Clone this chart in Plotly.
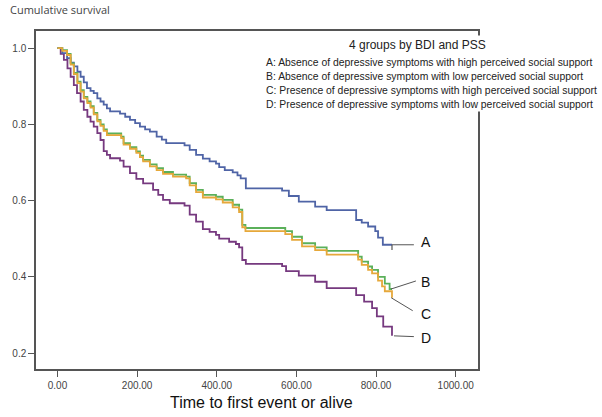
import plotly.graph_objects as go

# ---- data ----
time_a = [0, 12, 24, 33, 41, 50, 58, 66, 74, 83, 91, 100, 108, 116, 124, 132, 157, 170, 182, 195,
          207, 220, 232, 249, 262, 273, 319, 332, 348, 365, 382, 398, 406, 420, 440, 452, 460, 473,
          564, 581, 606, 647, 676, 750, 764, 780, 798, 805, 817, 840]
surv_a = [1.0, 0.987, 0.974, 0.962, 0.952, 0.938, 0.925, 0.91, 0.895, 0.888, 0.882, 0.868, 0.86, 0.852,
          0.842, 0.834, 0.828, 0.82, 0.812, 0.803, 0.794, 0.787, 0.781, 0.768, 0.76, 0.751, 0.745,
          0.733, 0.72, 0.71, 0.703, 0.697, 0.688, 0.68, 0.674, 0.666, 0.658, 0.632, 0.626, 0.612,
          0.597, 0.584, 0.575, 0.549, 0.542, 0.532, 0.52, 0.503, 0.484, 0.484]

time_b = [0, 12, 24, 33, 41, 50, 58, 66, 75, 83, 91, 100, 108, 116, 124, 160, 166, 182, 198, 207,
          215, 232, 249, 265, 290, 323, 332, 348, 365, 398, 415, 440, 456, 464, 472, 572, 589, 614,
          647, 676, 755, 764, 780, 790, 805, 822, 834, 840]
surv_b = [1.0, 0.995, 0.985, 0.96, 0.935, 0.912, 0.89, 0.872, 0.86, 0.848, 0.83, 0.812, 0.8, 0.787,
          0.776, 0.768, 0.751, 0.74, 0.729, 0.718, 0.707, 0.695, 0.685, 0.675, 0.668, 0.663, 0.646,
          0.628, 0.615, 0.61, 0.602, 0.589, 0.576, 0.536, 0.528, 0.52, 0.505, 0.488, 0.477, 0.468,
          0.453, 0.44, 0.427, 0.418, 0.40, 0.382, 0.368, 0.368]

time_c = [0, 12, 24, 33, 41, 50, 58, 66, 75, 83, 91, 100, 108, 116, 124, 160, 166, 182, 198, 207,
          215, 232, 249, 265, 290, 323, 332, 348, 365, 398, 415, 440, 456, 464, 472, 572, 589, 614,
          647, 676, 755, 764, 780, 790, 805, 815, 822, 840]
surv_c = [1.0, 0.993, 0.982, 0.957, 0.932, 0.908, 0.886, 0.868, 0.856, 0.844, 0.826, 0.808, 0.796,
          0.783, 0.772, 0.764, 0.747, 0.736, 0.725, 0.714, 0.703, 0.69, 0.68, 0.67, 0.663, 0.658,
          0.64, 0.622, 0.608, 0.603, 0.595, 0.582, 0.57, 0.53, 0.52, 0.512, 0.497, 0.48, 0.47,
          0.458, 0.445, 0.431, 0.418, 0.409, 0.39, 0.375, 0.362, 0.345]

time_d = [0, 8, 16, 25, 33, 41, 49, 58, 66, 75, 83, 91, 100, 108, 116, 124, 132, 157, 166, 182,
          198, 215, 240, 253, 265, 282, 319, 332, 348, 365, 382, 398, 406, 431, 448, 456, 464, 473,
          564, 574, 606, 647, 676, 750, 770, 790, 802, 818, 840]
surv_d = [1.0, 0.985, 0.969, 0.947, 0.925, 0.903, 0.882, 0.86, 0.838, 0.82, 0.807, 0.794, 0.777,
          0.759, 0.73, 0.72, 0.711, 0.705, 0.689, 0.672, 0.657, 0.645, 0.628, 0.615, 0.602, 0.593,
          0.587, 0.563, 0.545, 0.525, 0.518, 0.51, 0.5, 0.492, 0.486, 0.477, 0.444, 0.434, 0.428,
          0.415, 0.403, 0.387, 0.37, 0.352, 0.335, 0.318, 0.296, 0.269, 0.245]

group_labels = ["A", "B", "C", "D"]
legend_title = "4 groups by BDI and PSS"
legend_lines = [
    "A: Absence of depressive symptoms with high perceived social support",
    "B: Absence of depressive symptom with low perceived social support",
    "C: Presence of depressive symptoms with high perceived social support",
    "D: Presence of depressive symptoms with low perceived social support",
]
x_ticks = [0, 200, 400, 600, 800, 1000]
y_ticks = [0.2, 0.4, 0.6, 0.8, 1.0]

colors = ["#4f64a6", "#5bb05a", "#e6a83a", "#76397f"]

fig = go.Figure()
# draw order: D, A, B (green), C (orange) on top
for t, s, c in [(time_d, surv_d, colors[3]), (time_a, surv_a, colors[0]),
                (time_b, surv_b, colors[1]), (time_c, surv_c, colors[2])]:
    fig.add_trace(go.Scatter(x=t, y=s, mode="lines", line=dict(color=c, width=1.8, shape="hv"),
                             showlegend=False, hoverinfo="skip"))

axis_common = dict(showgrid=False, zeroline=False, showline=True, linecolor="#555555",
                   linewidth=1.5, mirror=True, ticks="outside", ticklen=6, tickwidth=1.2,
                   tickcolor="#555555",
                   tickfont=dict(family="Liberation Sans, Arial", size=10, color="#444444"))

fig.update_xaxes(range=[-54, 1056], tickvals=x_ticks, tickformat=".2f", **axis_common)
fig.update_yaxes(range=[0.158, 1.045], tickvals=y_ticks, tickformat=".1f", **axis_common)

# leader lines and censor tick
leader = dict(color="#555555", width=1)
shapes = [
    dict(type="line", xref="x", yref="y", x0=840, y0=surv_a[-1], x1=895, y1=surv_a[-1], line=leader),
    dict(type="line", xref="x", yref="y", x0=840, y0=surv_a[-1], x1=840, y1=surv_a[-1] - 0.014,
         line=dict(color="#555555", width=1.2)),
    dict(type="line", xref="x", yref="y", x0=838, y0=surv_b[-1], x1=900, y1=0.389, line=leader),
    dict(type="line", xref="x", yref="y", x0=838, y0=surv_c[-1], x1=892, y1=0.311, line=leader),
    dict(type="line", xref="x", yref="y", x0=845, y0=surv_d[-1], x1=895, y1=0.243, line=leader),
]
fig.update_layout(shapes=shapes)

annotations = []
label_y = [0.490, 0.387, 0.303, 0.239]
for lab, ly in zip(group_labels, label_y):
    annotations.append(dict(x=925, y=ly, xref="x", yref="y", text=lab, showarrow=False,
                            font=dict(family="Liberation Sans, Arial", size=14, color="#111111")))

# white box behind the legend text (covers the frame like the original text box)
annotations.append(dict(x=0.505, y=0.76, xref="paper", yref="paper", text="", showarrow=False,
                        xanchor="left", yanchor="bottom", width=330, height=75,
                        bgcolor="white", borderpad=0))
annotations.append(dict(x=905, y=1.009, xref="x", yref="y", text=legend_title, showarrow=False,
                        font=dict(family="Liberation Sans, Arial", size=12, color="#222222")))
for line_text, ly in zip(legend_lines, [0.962, 0.925, 0.889, 0.853]):
    annotations.append(dict(x=519, y=ly, xref="x", yref="y", text=line_text, showarrow=False,
                            xanchor="left",
                            font=dict(family="Liberation Sans, Arial", size=10.4, color="#222222")))

annotations.append(dict(x=-0.064, y=1.065, xref="paper", yref="paper", text="Cumulative survival",
                        showarrow=False, xanchor="left", yanchor="middle",
                        font=dict(family="Open Sans", size=11, color="#444444")))
annotations.append(dict(x=0.51, y=-0.0996, xref="paper", yref="paper",
                        text="Time to first event or alive", showarrow=False, yanchor="middle",
                        font=dict(family="Liberation Sans, Arial", size=16, color="#111111")))

fig.update_layout(annotations=annotations, width=602, height=417,
                  margin=dict(l=32, r=124, t=31, b=48),
                  paper_bgcolor="white", plot_bgcolor="white")

# remove the default page margin so the figure fills the window exactly
fig.write_html("out.html", config={"displayModeBar": False},
               post_script="document.body.style.margin='0px';")
